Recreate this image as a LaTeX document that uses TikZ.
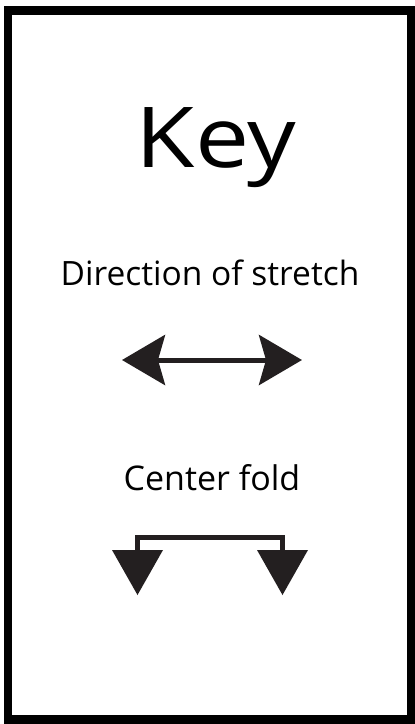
\documentclass[tikz,border=0pt]{standalone}
\usepackage{fontspec}
\setmainfont{Open Sans}
\usetikzlibrary{arrows.meta}
\definecolor{ink}{HTML}{231F20}
\begin{document}
\begin{tikzpicture}[x=1pt,y=-1pt,
  frame/.style={draw=black,line width=8.5pt},
  label/.style={inner sep=0pt,anchor=base,text=black},
  shaft/.style={draw=ink,line width=5pt},
  headfill/.style={fill=ink,draw=none}]
\useasboundingbox (0,0) rectangle (415,724);
\draw[frame] (8,10.5) rectangle (411.5,719.5);
\node[label,font=\fontsize{84}{84}\selectfont,xscale=1.15] (key) at (216,167) {Key};
\node[label,font=\fontsize{33.5}{40}\selectfont] (dir) at (210,285) {Direction of stretch};
\node[label,font=\fontsize{34}{40}\selectfont] (fold) at (212,490) {Center fold};
% direction of stretch
\coordinate (sl) at (122,360);
\coordinate (sr) at (302,360);
\draw[shaft,{Stealth[length=43pt,width=50pt,inset=7pt]}-{Stealth[length=43pt,width=50pt,inset=7pt]}] (sl) -- (sr);
% center fold
\coordinate (fl) at (137.5,552);
\coordinate (fr) at (282.5,552);
\draw[shaft,line cap=butt] (fl) -- (137.5,537.5) -- (282.5,537.5) -- (fr);
\fill[headfill] (112,550) -- (163,550) -- (137.5,595) -- cycle;
\fill[headfill] (257,550) -- (308,550) -- (282.5,595) -- cycle;
\end{tikzpicture}
\end{document}
